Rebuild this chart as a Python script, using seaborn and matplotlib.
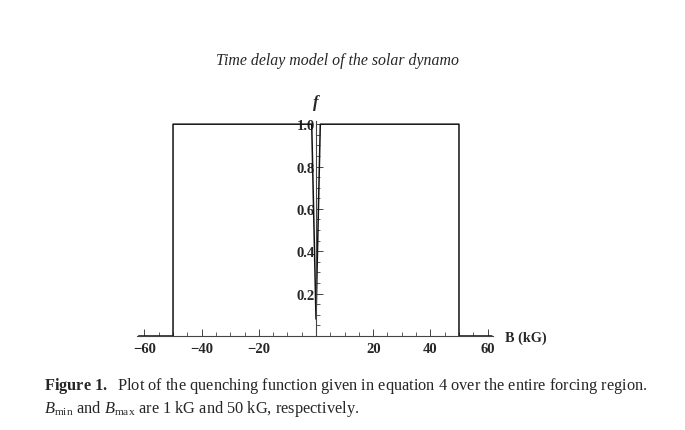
import pandas as pd
import matplotlib
matplotlib.use("Agg")
import matplotlib.pyplot as plt
import seaborn as sns

# quenching function f(B)
field_kg = [-62.0, -50.0, -50.0, -1.5, 0.0, 1.5, 50.0, 50.0, 61.5]
quench_f = [0.0, 0.0, 1.0, 1.0, 0.08, 1.0, 1.0, 0.0, 0.0]
x_major = [-60, -40, -20, 20, 40, 60]
y_major = [0.2, 0.4, 0.6, 0.8, 1.0]

sns.set_style("white")
plt.rcParams["font.family"] = ["Liberation Serif", "DejaVu Serif"]
plt.rcParams["mathtext.fontset"] = "custom"
plt.rcParams["mathtext.rm"] = "Liberation Serif"
plt.rcParams["mathtext.it"] = "Liberation Serif:italic"
plt.rcParams["mathtext.bf"] = "Liberation Serif:bold"

df = pd.DataFrame({"B": field_kg, "f": quench_f})

fig = plt.figure(figsize=(6.85, 4.31), dpi=100)
ax = fig.add_axes([137 / 685, 94 / 431, 356 / 685, 215 / 431])
sns.lineplot(data=df, x="B", y="f", sort=False, estimator=None,
             color="#111111", linewidth=1.1, ax=ax)

ax.set_xlim(-62.6, 61.9)
ax.set_ylim(0, 1.015)
for s in ["top", "right"]:
    ax.spines[s].set_visible(False)
ax.spines["left"].set_position(("data", 0))
ax.spines["bottom"].set_position(("data", 0))
for s in ["left", "bottom"]:
    ax.spines[s].set_color("#444444")
    ax.spines[s].set_linewidth(0.8)

ax.set_xticks(x_major)
ax.set_xticks([v for v in range(-60, 61, 5) if v % 20 != 0], minor=True)
ax.set_yticks(y_major)
ax.set_yticks([0.05, 0.1, 0.15, 0.25, 0.3, 0.35, 0.45, 0.5, 0.55,
               0.65, 0.7, 0.75, 0.85, 0.9, 0.95], minor=True)
ax.set_xticklabels(["\u221260", "\u221240", "\u221220", "20", "40", "60"],
                   fontweight="bold", fontsize=10.5)
ax.set_yticklabels(["0.2", "0.4", "0.6", "0.8", "1.0"],
                   fontweight="bold", fontsize=10.5)
ax.tick_params(which="both", bottom=True, left=True, direction="in",
               color="#444444")
ax.tick_params(which="major", length=5, width=0.7)
ax.tick_params(axis="x", which="major", pad=4)
ax.tick_params(axis="y", which="major", pad=1)
ax.tick_params(which="minor", length=3, width=0.6)
ax.set_xlabel("")
ax.set_ylabel("")
ax.grid(False)

fig.text(505 / 685, 1 - 338 / 431, "B (kG)", fontsize=10.3, fontweight="bold",
         va="center", ha="left")
fig.text(316 / 685, 1 - 103 / 431, "f", fontsize=12, style="italic",
         fontweight="bold", ha="center", va="center")
fig.text(337 / 685, 1 - 61 / 431, "Time delay model of the solar dynamo",
         fontsize=11.4, style="italic", ha="center", va="center")
fig.text(44 / 685, 1 - 390 / 431,
         r"$\mathbf{Figure\ 1.}$  Plot of the quenching function given in "
         r"equation 4 over the entire forcing region.",
         fontsize=11.8, ha="left", va="baseline")
fig.text(44 / 685, 1 - 413 / 431,
         r"$B_{\mathrm{min}}$ and $B_{\mathrm{max}}$ are 1 kG and 50 kG, respectively.",
         fontsize=11.8, ha="left", va="baseline")

fig.savefig("out.png", dpi=100)
